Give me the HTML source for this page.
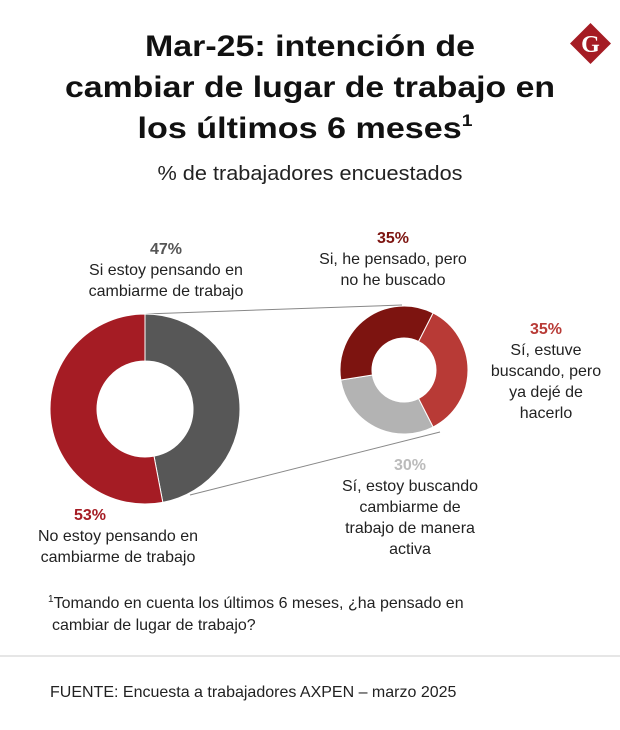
<!DOCTYPE html>
<html><head><meta charset="utf-8">
<style>
body{margin:0;width:620px;height:725px;background:#fff;font-family:"Liberation Sans",sans-serif;overflow:hidden}
svg text{font-family:"Liberation Sans",sans-serif}
</style></head>
<body>
<svg width="620" height="725" viewBox="0 0 620 725">
<g font-weight="bold" font-size="30" text-anchor="middle" fill="#111">
<text x="310" y="56" textLength="330" lengthAdjust="spacingAndGlyphs">Mar-25: intención de</text>
<text x="310" y="97" textLength="490" lengthAdjust="spacingAndGlyphs">cambiar de lugar  de trabajo en</text>
<text x="305" y="138" textLength="335" lengthAdjust="spacingAndGlyphs">los últimos 6 meses<tspan font-size="17" dy="-12">1</tspan></text>
</g>
<text x="310" y="180" font-size="20" text-anchor="middle" fill="#222" textLength="305" lengthAdjust="spacingAndGlyphs">% de trabajadores encuestados</text>
<g>
<rect x="576" y="29" width="29" height="29" fill="#a51c24" transform="rotate(45 590.5 43.5)"/>
<text x="590.5" y="52" font-size="24" font-weight="bold" fill="#fff" text-anchor="middle" style="font-family:'Liberation Serif',serif">G</text>
</g>
<g id="lines" stroke="#888" stroke-width="1">
<line x1="145" y1="314" x2="402" y2="305"/>
<line x1="190" y1="495" x2="440" y2="432"/>
</g>
<g id="big"></g>
<g id="small"></g>
<g font-size="16" fill="#222" text-anchor="middle">
<g>
<text x="166" y="254" font-weight="bold" fill="#555">47%</text>
<text x="166" y="275">Si estoy pensando en</text>
<text x="166" y="296">cambiarme de trabajo</text></g>
<g>
<text x="90" y="520" font-weight="bold" fill="#a51c24">53%</text>
<text x="118" y="541">No estoy pensando en</text>
<text x="118" y="562">cambiarme de trabajo</text></g>
<g>
<text x="393" y="243" font-weight="bold" fill="#7d1410">35%</text>
<text x="393" y="264">Si, he pensado, pero</text>
<text x="393" y="285">no he buscado</text></g>
<g>
<text x="546" y="334" font-weight="bold" fill="#b83a36">35%</text>
<text x="546" y="355">Sí, estuve</text>
<text x="546" y="376">buscando, pero</text>
<text x="546" y="397">ya dejé de</text>
<text x="546" y="418">hacerlo</text></g>
<g>
<text x="410" y="470" font-weight="bold" fill="#bbb">30%</text>
<text x="410" y="491">Sí, estoy buscando</text>
<text x="410" y="512">cambiarme de</text>
<text x="410" y="533">trabajo de manera</text>
<text x="410" y="554">activa</text></g>
</g>
<g font-size="16" fill="#222">
<text x="48" y="608"><tspan font-size="10" dy="-6">1</tspan><tspan dy="6">Tomando en cuenta los últimos 6 meses, ¿ha pensado en</tspan></text>
<text x="52" y="630">cambiar de lugar de trabajo?</text>
</g>
<line x1="0" y1="656" x2="620" y2="656" stroke="#ccc"/>
<text x="50" y="697" font-size="16" fill="#222">FUENTE: Encuesta a trabajadores AXPEN – marzo 2025</text>
</svg>
<script>
const mainCategories=["Si estoy pensando","No estoy pensando"];
const mainValues=[47,53];
const mainColors=["#575757","#a51c24"];
const subCategories=["Estuve buscando","Buscando activa","Pensado no buscado"];
const subValues=[35,30,35];
const subColors=["#b83a36","#b3b3b3","#7d1410"];
const NS="http://www.w3.org/2000/svg";
function arc(cx,cy,r0,r1,a0,a1){
  const p=(r,a)=>[cx+r*Math.sin(a),cy-r*Math.cos(a)];
  const lg=(a1-a0)>Math.PI?1:0;
  const [x1,y1]=p(r1,a0),[x2,y2]=p(r1,a1),[x3,y3]=p(r0,a1),[x4,y4]=p(r0,a0);
  return `M${x1},${y1}A${r1},${r1} 0 ${lg} 1 ${x2},${y2}L${x3},${y3}A${r0},${r0} 0 ${lg} 0 ${x4},${y4}Z`;
}
function donut(g,vals,cols,cats,cx,cy,r0,r1,start){
  const tot=vals.reduce((a,b)=>a+b,0);let a=start;
  vals.forEach((v,i)=>{
    const a1=a+v/tot*2*Math.PI;
    const el=document.createElementNS(NS,"path");
    el.setAttribute("d",arc(cx,cy,r0,r1,a,a1));
    el.setAttribute("fill",cols[i]);
    el.setAttribute("stroke","#fff");
    el.setAttribute("stroke-width","1");
    
    
    g.appendChild(el);a=a1;
  });
}
donut(document.getElementById("big"),mainValues,mainColors,mainCategories,145,409,48,95,0);
donut(document.getElementById("small"),subValues,subColors,subCategories,404,370,32,64,27*Math.PI/180);
</script>
</body></html>
